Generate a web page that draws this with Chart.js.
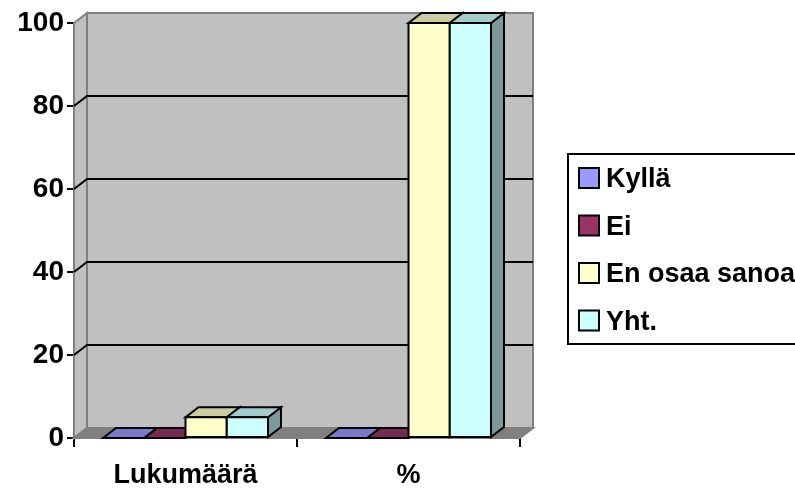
<!DOCTYPE html>
<html lang="fi">
<head>
<meta charset="UTF-8">
<title>Kysely</title>
<script src="https://cdn.jsdelivr.net/npm/chart.js@4.4.1/dist/chart.umd.min.js"></script>
<style>
  body { margin: 0; background: #fff; }
  #wrap { width: 795px; height: 490px; }
</style>
</head>
<body>
<div id="wrap"><canvas id="chart" width="795" height="490"></canvas></div>
<script>
const categories = ['Lukumäärä', '%'];
const seriesNames = ['Kyllä', 'Ei', 'En osaa sanoa', 'Yht.'];
const kylla = [0, 0];
const ei = [0, 0];
const enOsaa = [5, 100];
const yht = [5, 100];
const yTicks = [0, 20, 40, 60, 80, 100];

const fills = ['#9999FF', '#993366', '#FFFFCC', '#CCFFFF'];
const FONT = '"Liberation Sans", Arial, sans-serif';
const DX = 13, DY = -10;

function shade(hex, f) {
  const n = parseInt(hex.slice(1), 16);
  const r = Math.round(((n >> 16) & 255) * f);
  const g = Math.round(((n >> 8) & 255) * f);
  const b = Math.round((n & 255) * f);
  return `rgb(${r},${g},${b})`;
}

function poly(ctx, pts, fill) {
  ctx.beginPath();
  ctx.moveTo(pts[0][0], pts[0][1]);
  for (let i = 1; i < pts.length; i++) ctx.lineTo(pts[i][0], pts[i][1]);
  ctx.closePath();
  ctx.fillStyle = fill;
  ctx.fill();
  ctx.stroke();
}

// walls, floor and gridlines behind the bars
const walls = {
  id: 'walls',
  beforeDatasetsDraw(chart) {
    const ctx = chart.ctx, a = chart.chartArea, y = chart.scales.y;
    ctx.save();
    ctx.lineWidth = 2;
    ctx.strokeStyle = '#808080';
    // back wall
    ctx.fillStyle = '#C0C0C0';
    ctx.fillRect(a.left + DX, a.top + DY, a.right - a.left, a.bottom - a.top);
    ctx.strokeRect(a.left + DX, a.top + DY, a.right - a.left, a.bottom - a.top);
    // side wall
    poly(ctx, [[a.left, a.top], [a.left + DX, a.top + DY], [a.left + DX, a.bottom + DY], [a.left, a.bottom]], '#C0C0C0');
    // floor
    poly(ctx, [[a.left, a.bottom], [a.left + DX, a.bottom + DY], [a.right + DX, a.bottom + DY], [a.right, a.bottom]], '#808080');
    // gridlines
    ctx.strokeStyle = '#000';
    ctx.lineWidth = 2;
    yTicks.slice(1, -1).forEach(v => {
      const py = y.getPixelForValue(v);
      ctx.beginPath();
      ctx.moveTo(a.left, py);
      ctx.lineTo(a.left + DX, py + DY);
      ctx.lineTo(a.right + DX, py + DY);
      ctx.stroke();
    });
    ctx.restore();
  }
};

// 3D faces for each bar
const bars3d = {
  id: 'bars3d',
  afterDatasetsDraw(chart) {
    const ctx = chart.ctx;
    ctx.save();
    ctx.lineWidth = 2;
    ctx.strokeStyle = '#000';
    const n = chart.data.labels.length;
    for (let i = 0; i < n; i++) {
      chart.data.datasets.forEach((ds, d) => {
        const el = chart.getDatasetMeta(d).data[i];
        const l = el.x - el.width / 2, r = el.x + el.width / 2;
        const t = el.y, b = el.base;
        const c = fills[d];
        if (b - t > 0.5) {
          poly(ctx, [[r, t], [r + DX, t + DY], [r + DX, b + DY], [r, b]], shade(c, 0.6));
        }
        poly(ctx, [[l, t], [l + DX, t + DY], [r + DX, t + DY], [r, t]], shade(c, 0.8));
        if (b - t > 0.5) {
          ctx.fillStyle = c;
          ctx.fillRect(l, t, r - l, b - t);
          ctx.strokeRect(l, t, r - l, b - t);
        }
      });
    }
    ctx.restore();
  }
};

// legend box on the right
const legendBox = {
  id: 'legendBox',
  afterDraw(chart) {
    const ctx = chart.ctx;
    ctx.save();
    ctx.lineWidth = 2;
    ctx.strokeStyle = '#000';
    ctx.strokeRect(568, 154, 260, 190);
    ctx.font = 'bold 27px ' + FONT;
    ctx.textBaseline = 'middle';
    chart.data.datasets.forEach((ds, i) => {
      const cy = 178 + i * 47.5;
      ctx.fillStyle = fills[i];
      ctx.fillRect(579, cy - 10, 20, 20);
      ctx.strokeRect(579, cy - 10, 20, 20);
      ctx.fillStyle = '#000';
      ctx.fillText(ds.label, 606, cy + 2);
    });
    ctx.restore();
  }
};

new Chart(document.getElementById('chart'), {
  type: 'bar',
  data: {
    labels: categories,
    datasets: [kylla, ei, enOsaa, yht].map((vals, i) => ({
      label: seriesNames[i],
      data: vals,
      backgroundColor: 'rgba(0,0,0,0)',
      borderWidth: 0
    }))
  },
  options: {
    responsive: false,
    animation: false,
    layout: { padding: { left: 0, top: 23, right: 275, bottom: 0 } },
    categoryPercentage: 0.74,
    barPercentage: 1,
    plugins: { legend: { display: false }, tooltip: { enabled: false } },
    scales: {
      x: {
        afterFit(s) { s.height = 52; },
        grid: { drawOnChartArea: false, color: '#000', lineWidth: 2, tickLength: 9 },
        border: { color: '#000', width: 2 },
        ticks: { color: '#000', font: { family: FONT, weight: 'bold', size: 27 }, padding: 12 }
      },
      y: {
        min: 0, max: 100,
        afterFit(s) { s.width = 74; },
        afterBuildTicks(s) { s.ticks = yTicks.map(v => ({ value: v })); },
        grid: { drawOnChartArea: false, color: '#000', lineWidth: 2, tickLength: 7 },
        border: { color: '#000', width: 2 },
        ticks: { color: '#000', font: { family: FONT, weight: 'bold', size: 28 }, padding: 3 }
      }
    }
  },
  plugins: [walls, bars3d, legendBox]
});
</script>
</body>
</html>
